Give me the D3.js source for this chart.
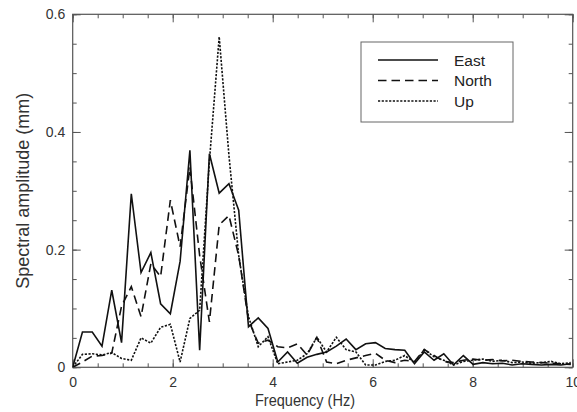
<!DOCTYPE html>
<html>
<head>
<meta charset="utf-8">
<script src="https://cdn.jsdelivr.net/npm/d3@7"></script>
<style>
  html, body { margin: 0; padding: 0; background: #fff; }
  svg { display: block; font-family: "Liberation Sans", Arial, Helvetica, sans-serif; }
</style>
</head>
<body>
<div id="chart"></div>
<script>
// ---- data ----
const frequency = [0, 0.195, 0.391, 0.586, 0.781, 0.977, 1.172, 1.367, 1.563, 1.758,
  1.953, 2.148, 2.344, 2.539, 2.734, 2.930, 3.125, 3.320, 3.516, 3.711,
  3.906, 4.102, 4.297, 4.492, 4.688, 4.883, 5.078, 5.273, 5.469, 5.664,
  5.859, 6.055, 6.250, 6.445, 6.641, 6.836, 7.031, 7.227, 7.422, 7.617,
  7.813, 8.008, 8.203, 8.398, 8.594, 8.789, 8.984, 9.180, 9.375, 9.570,
  9.766, 9.961];
const east = [0, 0.060, 0.060, 0.036, 0.131, 0.042, 0.295, 0.161, 0.195, 0.108,
  0.091, 0.180, 0.369, 0.029, 0.363, 0.296, 0.312, 0.267, 0.069, 0.084,
  0.066, 0.009, 0.026, 0.007, 0.017, 0.022, 0.026, 0.036, 0.048, 0.030,
  0.040, 0.042, 0.032, 0.030, 0.029, 0.006, 0.026, 0.012, 0.023, 0.004,
  0.020, 0.005, 0.008, 0.006, 0.007, 0.004, 0.006, 0.005, 0.004, 0.005,
  0.004, 0.006];
const north = [0, 0.009, 0.019, 0.020, 0.024, 0.104, 0.137, 0.086, 0.176, 0.154,
  0.284, 0.205, 0.340, 0.190, 0.077, 0.242, 0.258, 0.190, 0.080, 0.041,
  0.046, 0.035, 0.033, 0.040, 0.021, 0.051, 0.009, 0.006, 0.012, 0.016,
  0.020, 0.024, 0.012, 0.008, 0.012, 0.010, 0.030, 0.020, 0.010, 0.008,
  0.012, 0.014, 0.012, 0.013, 0.011, 0.012, 0.010, 0.009, 0.008, 0.007,
  0.006, 0.005];
const up = [0, 0.022, 0.023, 0.021, 0.025, 0.015, 0.012, 0.050, 0.041, 0.068,
  0.073, 0.009, 0.083, 0.097, 0.350, 0.562, 0.360, 0.190, 0.086, 0.035,
  0.052, 0.006, 0.009, 0.012, 0.023, 0.051, 0.026, 0.051, 0.030, 0.026,
  0.004, 0.004, 0.010, 0.012, 0.020, 0.008, 0.030, 0.018, 0.012, 0.004,
  0.010, 0.012, 0.014, 0.010, 0.012, 0.008, 0.009, 0.007, 0.008, 0.010,
  0.006, 0.008];
const seriesNames = ["East", "North", "Up"];
const xTicks = [0, 2, 4, 6, 8, 10];
const yTicks = [0, 0.2, 0.4, 0.6];
const xTitle = "Frequency (Hz)";
const yTitle = "Spectral amplitude (mm)";

// ---- layout ----
const W = 577, H = 412;
const m = { left: 72.7, right: 4.3, top: 14.3, bottom: 44.7 };
const iw = W - m.left - m.right, ih = H - m.top - m.bottom;

const svg = d3.select("#chart").append("svg").attr("width", W).attr("height", H);
const g = svg.append("g").attr("transform", `translate(${m.left},${m.top})`);

const x = d3.scaleLinear().domain([0, 10]).range([0, iw]);
const y = d3.scaleLinear().domain([0, 0.6]).range([ih, 0]);

const axisColor = "#555";
const textColor = "#333";

g.append("defs").append("clipPath").attr("id", "clip")
  .append("rect").attr("width", iw).attr("height", ih);

const xMinor = d3.range(0, 10.001, 0.5);
const yMinor = d3.range(0, 0.6001, 0.05);

function styleAxis(sel) {
  sel.select(".domain").remove();
  sel.selectAll(".tick line").attr("stroke", axisColor).attr("stroke-width", 1);
  sel.selectAll(".tick text").attr("fill", textColor).attr("font-size", 14);
}

// bottom
g.append("g").attr("transform", `translate(0,${ih})`)
  .call(d3.axisBottom(x).tickValues(xMinor).tickSize(-4).tickFormat(""))
  .call(styleAxis);
g.append("g").attr("transform", `translate(0,${ih})`)
  .call(d3.axisBottom(x).tickValues(xTicks).tickSize(-8).tickPadding(9.5).tickFormat(d3.format("d")))
  .call(styleAxis);
// top
g.append("g")
  .call(d3.axisTop(x).tickValues(xMinor).tickSize(-4).tickFormat(""))
  .call(styleAxis);
g.append("g")
  .call(d3.axisTop(x).tickValues(xTicks).tickSize(-8).tickFormat(""))
  .call(styleAxis);
// left
g.append("g")
  .call(d3.axisLeft(y).tickValues(yMinor).tickSize(-4).tickFormat(""))
  .call(styleAxis);
g.append("g")
  .call(d3.axisLeft(y).tickValues(yTicks).tickSize(-8).tickPadding(7.5).tickFormat(d => d === 0 ? "0" : d3.format(".1f")(d)))
  .call(styleAxis);
// right
g.append("g").attr("transform", `translate(${iw},0)`)
  .call(d3.axisRight(y).tickValues(yMinor).tickSize(-4).tickFormat(""))
  .call(styleAxis);
g.append("g").attr("transform", `translate(${iw},0)`)
  .call(d3.axisRight(y).tickValues(yTicks).tickSize(-8).tickFormat(""))
  .call(styleAxis);

// frame
g.append("rect").attr("width", iw).attr("height", ih)
  .attr("fill", "none").attr("stroke", axisColor).attr("stroke-width", 1.2);

// lines
const series = [
  { name: seriesNames[0], values: east, dash: null },
  { name: seriesNames[1], values: north, dash: "8.5,5" },
  { name: seriesNames[2], values: up, dash: "2.2,1.5" }
];
const line = d3.line().x((d, i) => x(frequency[i])).y(d => y(d));
const lg = g.append("g").attr("clip-path", "url(#clip)");
series.forEach(s => {
  lg.append("path").datum(s.values)
    .attr("d", line)
    .attr("fill", "none")
    .attr("stroke", "#111")
    .attr("stroke-width", 1.6)
    .attr("stroke-linejoin", "miter")
    .attr("stroke-dasharray", s.dash);
});

// legend
const leg = svg.append("g");
leg.append("rect").attr("x", 361).attr("y", 42).attr("width", 152).attr("height", 80)
  .attr("fill", "#fff").attr("stroke", "#666").attr("stroke-width", 1);
series.forEach((s, i) => {
  const yy = 60 + i * 20.5;
  leg.append("line").attr("x1", 378).attr("x2", 438).attr("y1", yy).attr("y2", yy)
    .attr("stroke", "#111").attr("stroke-width", 1.6).attr("stroke-dasharray", s.dash);
  leg.append("text").attr("x", 454).attr("y", yy).attr("dy", "0.36em")
    .attr("font-size", 15.5).attr("fill", "#222").text(s.name);
});

// titles
svg.append("text").attr("x", 305).attr("y", 406)
  .attr("text-anchor", "middle").attr("font-size", 16.5).attr("fill", textColor)
  .attr("textLength", 100).attr("lengthAdjust", "spacingAndGlyphs").text(xTitle);
svg.append("text").attr("transform", `translate(29,${m.top + ih / 2}) rotate(-90)`)
  .attr("text-anchor", "middle").attr("font-size", 18).attr("fill", textColor).text(yTitle);
</script>
</body>
</html>
